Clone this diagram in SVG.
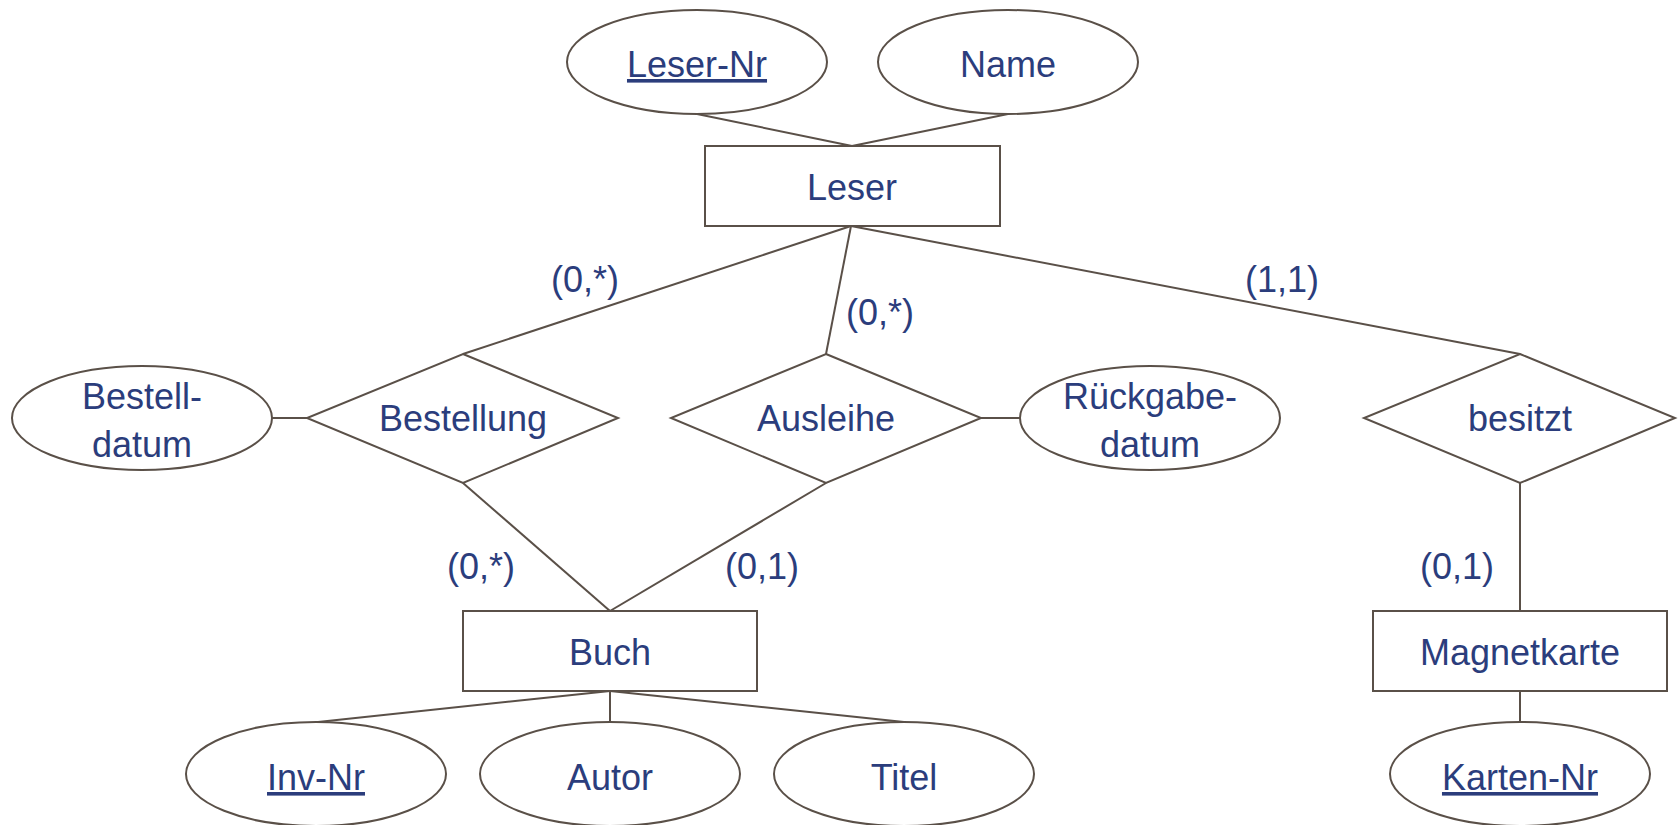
<svg xmlns="http://www.w3.org/2000/svg" width="1678" height="825" viewBox="0 0 1678 825">
<style>
.s{fill:#fff;stroke:#5a5048;stroke-width:2}
.c{stroke:#5a5048;stroke-width:2;fill:none}
text{font-family:"Liberation Sans",Arial,sans-serif;font-size:36px;fill:#2b3d7c;text-anchor:middle}
.u{text-decoration:underline}
</style>
<rect width="1678" height="825" fill="#fff"/>
<g id="connectors">
<line class="c" x1="697" y1="114" x2="852" y2="146"/>
<line class="c" x1="1008" y1="114" x2="852" y2="146"/>
<line class="c" x1="851" y1="226" x2="463" y2="354"/>
<line class="c" x1="851" y1="226" x2="826" y2="354"/>
<line class="c" x1="851" y1="226" x2="1520" y2="354"/>
<line class="c" x1="272" y1="418" x2="307" y2="418"/>
<line class="c" x1="981" y1="418" x2="1020" y2="418"/>
<line class="c" x1="463" y1="483" x2="610" y2="611"/>
<line class="c" x1="826" y1="483" x2="610" y2="611"/>
<line class="c" x1="1520" y1="483" x2="1520" y2="611"/>
<line class="c" x1="610" y1="691" x2="318" y2="722"/>
<line class="c" x1="610" y1="691" x2="610" y2="722"/>
<line class="c" x1="610" y1="691" x2="904" y2="722"/>
<line class="c" x1="1520" y1="691" x2="1520" y2="722"/>
</g>
<g id="leser-nr"><ellipse class="s" cx="697" cy="62" rx="130" ry="52"/><text x="697" y="77" class="u">Leser-Nr</text></g>
<g id="name"><ellipse class="s" cx="1008" cy="62" rx="130" ry="52"/><text x="1008" y="77">Name</text></g>
<g id="leser"><rect class="s" x="705" y="146" width="295" height="80"/><text x="852" y="200">Leser</text></g>
<g id="bestelldatum"><ellipse class="s" cx="142" cy="418" rx="130" ry="52"/><text x="142" y="409">Bestell-</text><text x="142" y="457">datum</text></g>
<g id="bestellung"><polygon class="s" points="463,354 618,418 463,483 307,418"/><text x="463" y="431">Bestellung</text></g>
<g id="ausleihe"><polygon class="s" points="826,354 981,418 826,483 671,418"/><text x="826" y="431">Ausleihe</text></g>
<g id="rueckgabedatum"><ellipse class="s" cx="1150" cy="418" rx="130" ry="52"/><text x="1150" y="409">Rückgabe-</text><text x="1150" y="457">datum</text></g>
<g id="besitzt"><polygon class="s" points="1520,354 1675,418 1520,483 1364,418"/><text x="1520" y="431">besitzt</text></g>
<g id="buch"><rect class="s" x="463" y="611" width="294" height="80"/><text x="610" y="665">Buch</text></g>
<g id="magnetkarte"><rect class="s" x="1373" y="611" width="294" height="80"/><text x="1520" y="665">Magnetkarte</text></g>
<g id="inv-nr"><ellipse class="s" cx="316" cy="774" rx="130" ry="52"/><text x="316" y="790" class="u">Inv-Nr</text></g>
<g id="autor"><ellipse class="s" cx="610" cy="774" rx="130" ry="52"/><text x="610" y="790">Autor</text></g>
<g id="titel"><ellipse class="s" cx="904" cy="774" rx="130" ry="52"/><text x="904" y="790">Titel</text></g>
<g id="karten-nr"><ellipse class="s" cx="1520" cy="774" rx="130" ry="52"/><text x="1520" y="790" class="u">Karten-Nr</text></g>
<g id="labels">
<text x="585" y="292">(0,*)</text>
<text x="880" y="325">(0,*)</text>
<text x="1282" y="292">(1,1)</text>
<text x="481" y="579">(0,*)</text>
<text x="762" y="579">(0,1)</text>
<text x="1457" y="579">(0,1)</text>
</g>
</svg>
